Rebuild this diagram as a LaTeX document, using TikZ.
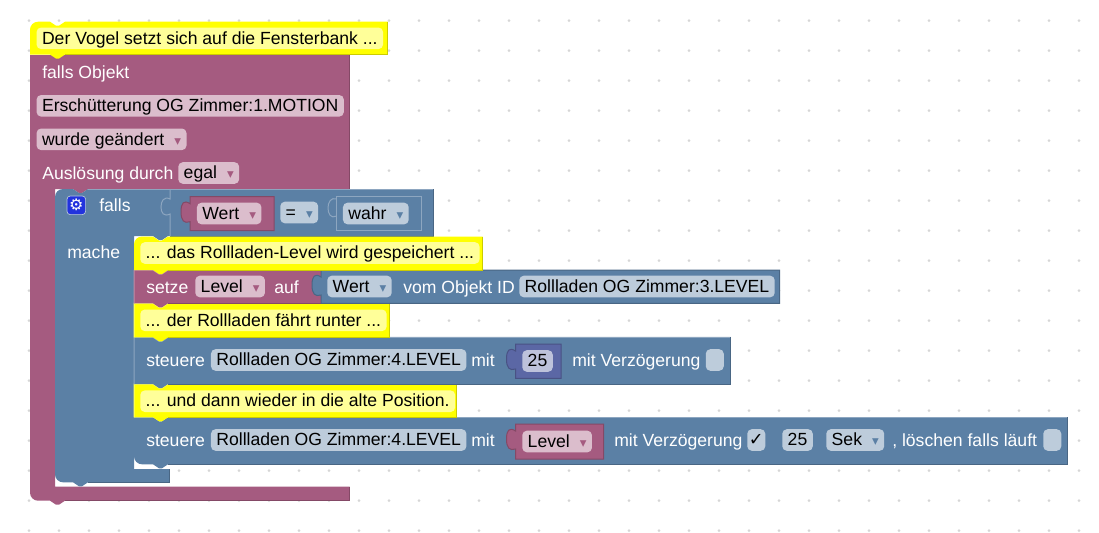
\documentclass[tikz,border=0pt]{standalone}
\usepackage{fontspec}
\setmainfont{Liberation Sans}
\newfontfamily\symfont{DejaVu Sans}
\definecolor{maroonblock}{RGB}{165, 91, 128}
\definecolor{maroondark}{RGB}{132, 73, 102}
\definecolor{maroonlight}{RGB}{192, 141, 166}
\definecolor{maroonfield}{RGB}{219, 189, 204}
\definecolor{blueblock}{RGB}{91, 128, 165}
\definecolor{bluedark}{RGB}{73, 102, 132}
\definecolor{bluelight}{RGB}{141, 166, 192}
\definecolor{bluefield}{RGB}{189, 204, 219}
\definecolor{purpleblock}{RGB}{91, 103, 165}
\definecolor{purpledark}{RGB}{73, 82, 132}
\definecolor{purplefield}{RGB}{189, 194, 219}
\definecolor{noteblock}{RGB}{255, 255, 0}
\definecolor{notedark}{RGB}{204, 204, 0}
\definecolor{notelight}{RGB}{255, 255, 102}
\definecolor{notefield}{RGB}{255, 255, 153}
\definecolor{griddot}{RGB}{214, 214, 214}
\definecolor{gearblue}{RGB}{34, 51, 221}
\tikzset{
  edge/.style={line width=0.75pt},
  socket/.style={draw=bluelight, line width=0.75pt},
  lbl/.style={anchor=west, inner sep=0pt, text=white, text height=12.4pt, text depth=2.8pt},
  field/.style={anchor=west, rounded corners=3.4pt, inner xsep=4.1pt, inner ysep=0pt,
    minimum height=16.2pt, text=black, text height=11.4pt, text depth=2.8pt},
  maroontag/.style={field, fill=maroonfield},
  bluetag/.style={field, fill=bluefield},
  purpletag/.style={field, fill=purplefield},
  notetag/.style={field, fill=notefield},
  emptytag/.style={bluetag, minimum width=13.5pt, inner xsep=0pt}
}
% stacked block with notch on top and tab below
\newcommand{\stackblock}[5]{
  \fill[#5block] (#1,#2) -- (#1+19,#2) -- ++(6,4) -- ++(3,0) -- ++(6,-4) -- (#3,#2) -- (#3,#4)
    -- (#1+34,#4) -- ++(-6,4) -- ++(-3,0) -- ++(-6,-4) -- (#1,#4) -- cycle;
  \draw[edge, #5light] (#1,#4) -- (#1,#2) -- (#1+19,#2) -- ++(6,4) -- ++(3,0) -- ++(6,-4) -- (#3,#2);
  \draw[edge, #5dark] (#3,#2) -- (#3,#4) -- (#1+34,#4);
}
% value block with puzzle tab on the left
\newcommand{\valueblock}[5]{
  \path[fill=#5block, draw=#5dark, line width=0.75pt] (#1,#2) -- (#3,#2) -- (#3,#4) -- (#1,#4) -- (#1,#2+25)
    .. controls (#1-6,#2+27) and (#1-9,#2+24) .. (#1-9,#2+15)
    .. controls (#1-9,#2+6) and (#1-6,#2+3) .. (#1,#2+7) -- cycle;
}
\newcommand{\ddarrow}[1]{\hspace{7.5pt}{\symfont\fontsize{10}{10}\selectfont\textcolor{#1}{▾}}\hspace{9.5pt}}

\begin{document}
\begin{tikzpicture}[x=0.75pt, y=-0.75pt, font=\fontsize{13.2}{15}\selectfont]
  \useasboundingbox (0,0) rectangle (1099,532);

  % Dot grid
  \foreach \dx in {0,...,35}
    \foreach \dy in {0,...,17}
      \fill[griddot] (29+30*\dx, 20.7+30*\dy) circle (1.5);

  % Outer block
  \fill[maroonblock] (30,55) -- (349.6,55) -- (349.6,189) -- (88,189) -- ++(-6,4) -- ++(-3,0) -- ++(-6,-4)
    -- (55,189) -- (55,486.7) -- (349.6,486.7) -- (349.6,500.7) -- (65,500.7) -- ++(-6,4) -- ++(-3,0) -- ++(-6,-4)
    [rounded corners=6pt] -- (30,500.7) -- (30,480) [sharp corners] -- cycle;
  \draw[edge, maroondark] (349.6,55) -- (349.6,189);
  \draw[edge, maroondark] (349.6,486.7) -- (349.6,500.7) -- (65,500.7);

  % Inner block
  \fill[blueblock] [rounded corners=6pt] (55,210) -- (55,189) [sharp corners] -- (73,189) -- ++(6,4) -- ++(3,0) -- ++(6,-4)
    -- (433.6,189) -- (433.6,236) -- (168,236) -- ++(-6,4) -- ++(-3,0) -- ++(-6,-4)
    -- (134,236) -- (134,469) -- (169.6,469) -- (169.6,482.3) -- (88,482.3) -- ++(-6,4) -- ++(-3,0) -- ++(-6,-4)
    [rounded corners=6pt] -- (55,482.3) -- (55,460) [sharp corners] -- cycle;
  \draw[edge, bluelight] (88,189) -- (433.6,189);
  \draw[edge, bluedark] (433.6,189) -- (433.6,236) -- (170,236);
  \draw[edge, bluedark] (169.6,469) -- (169.6,482.3) -- (88,482.3);

  % Sockets
  \path[socket] (170,189) -- (170,199) .. controls (164,196) and (161,201) .. (161,207)
    .. controls (161,213) and (164,217) .. (170,214) -- (170,236);
  \path[socket] (336.7,199) .. controls (331,197) and (328,202) .. (328,208)
    .. controls (328,214) and (331,219) .. (336.7,216);

  % Stack, bottom up
  \fill[blueblock] (134,417.3) -- (153,417.3) -- ++(6,4) -- ++(3,0) -- ++(6,-4) -- (1067.6,417.3) -- (1067.6,464.3)
    -- (168,464.3) -- ++(-6,4) -- ++(-3,0) -- ++(-6,-4) [rounded corners=6pt] -- (134,464.3) -- (134,445) [sharp corners] -- cycle;
  \draw[edge, bluelight] (168,417.3) -- (1067.6,417.3);
  \draw[edge, bluedark] (1067.6,417.3) -- (1067.6,464.3) -- (168,464.3);
  \stackblock{134}{384}{456.6}{417.3}{note}
  \stackblock{134}{337.3}{730.6}{384}{blue}
  \stackblock{134}{303.3}{389.6}{337.3}{note}
  \stackblock{134}{270}{321}{303.3}{maroon}
  \valueblock{321}{270}{779.6}{303.3}{blue}
  \fill[noteblock] [rounded corners=6pt] (134,250) -- (134,236.5) [sharp corners] -- (153,236.5) -- ++(6,4) -- ++(3,0) -- ++(6,-4)
    -- (482.6,236.5) -- (482.6,270) -- (168,270) -- ++(-6,4) -- ++(-3,0) -- ++(-6,-4) -- (134,270) -- cycle;
  \draw[edge, notedark] (482.6,236.5) -- (482.6,270) -- (168,270);

  % Top note
  \fill[noteblock] [rounded corners=6pt] (30,40) -- (30,21.7) [sharp corners] -- (50,21.7) -- ++(6,4) -- ++(3,0) -- ++(6,-4)
    -- (387.6,21.7) -- (387.6,54.5) -- (65,54.5) -- ++(-6,4) -- ++(-3,0) -- ++(-6,-4) -- (30,54.5) -- cycle;
  \draw[edge, notedark] (387.6,21.7) -- (387.6,54.5) -- (65,54.5);
  \node[notetag] (vogelnote) at (36.3,38.3) {Der Vogel setzt sich auf die Fensterbank ...};

  % Trigger
  \node[lbl] (fallsobj) at (42,72) {falls Objekt};
  \node[maroontag] (motionid) at (36.3,105.8) {Erschütterung OG Zimmer:1.MOTION};
  \node[maroontag] (changed) at (36.3,139.3) {wurde geändert\ddarrow{maroonblock}};
  \node[lbl] (trigger) at (42,173) {Auslösung durch};
  \node[maroontag] (egal) at (178,173) {egal\ddarrow{maroonblock}};

  % Condition
  \node[fill=gearblue, draw=bluefield, line width=0.5pt, rounded corners=2.5pt, minimum size=14pt, inner sep=0pt, text=white] (gear) at (76.3,205.3)
    {\symfont\fontsize{12}{12}\selectfont ⚙};
  \node[lbl] (fallslbl) at (99,205) {falls};
  \valueblock{190}{196.7}{274}{230.7}{maroon}
  \node[maroontag] (wertcond) at (196.7,213.5) {Wert\ddarrow{maroonblock}};
  \node[bluetag] (equal) at (280,212.5) {=\ddarrow{blueblock}};
  \draw[edge, fill=blueblock, draw=bluelight] (336.7,196) rectangle (421.7,230.7);
  \node[bluetag] (wahr) at (342.7,213.5) {wahr\ddarrow{blueblock}};
  \node[lbl] (mache) at (67,252) {mache};

  % First note and setze
  \node[notetag] (savenote) at (140,253) {... das Rollladen-Level wird gespeichert ...};
  \node[lbl] (setze) at (146,287) {setze};
  \node[maroontag] (levelvar) at (195,286.5) {Level\ddarrow{maroonblock}};
  \node[lbl] (auf) at (274,287) {auf};
  \node[bluetag] (wertval) at (327,286.5) {Wert\ddarrow{blueblock}};
  \node[lbl] (vomobj) at (403,287) {vom Objekt ID};
  \node[bluetag] (levelid) at (519,286.5) {Rollladen OG Zimmer:3.LEVEL};

  % Second note and steuere
  \node[notetag] (downnote) at (140,320.3) {... der Rollladen fährt runter ...};
  \node[lbl] (steuerea) at (146,360) {steuere};
  \node[bluetag] (ida) at (210.7,360) {Rollladen OG Zimmer:4.LEVEL};
  \node[lbl] (mita) at (471,360) {mit};
  \valueblock{515.5}{344}{561}{378.3}{purple}
  \node[purpletag] (num) at (522,361) {25};
  \node[lbl] (delaya) at (572,360) {mit Verzögerung};
  \node[emptytag] (checka) at (705.5,360) {};

  % Third note and steuere
  \node[notetag] (backnote) at (140,401.2) {... und dann wieder in die alte Position.};
  \node[lbl] (steuereb) at (146,440) {steuere};
  \node[bluetag] (idb) at (210.7,440) {Rollladen OG Zimmer:4.LEVEL};
  \node[lbl] (mitb) at (471,440) {mit};
  \valueblock{515.5}{424}{603.5}{459}{maroon}
  \node[maroontag] (levelval) at (522,441.5) {Level\ddarrow{maroonblock}};
  \node[lbl] (delayb) at (614,440) {mit Verzögerung};
  \node[emptytag] (checkb) at (747,440) {\symfont ✓};
  \node[bluetag] (secs) at (782,440) {25};
  \node[bluetag] (unit) at (826,440) {Sek\ddarrow{blueblock}};
  \node[lbl] (clear) at (892,440) {, löschen falls läuft};
  \node[emptytag] (checkc) at (1043,440) {};
\end{tikzpicture}
\end{document}
